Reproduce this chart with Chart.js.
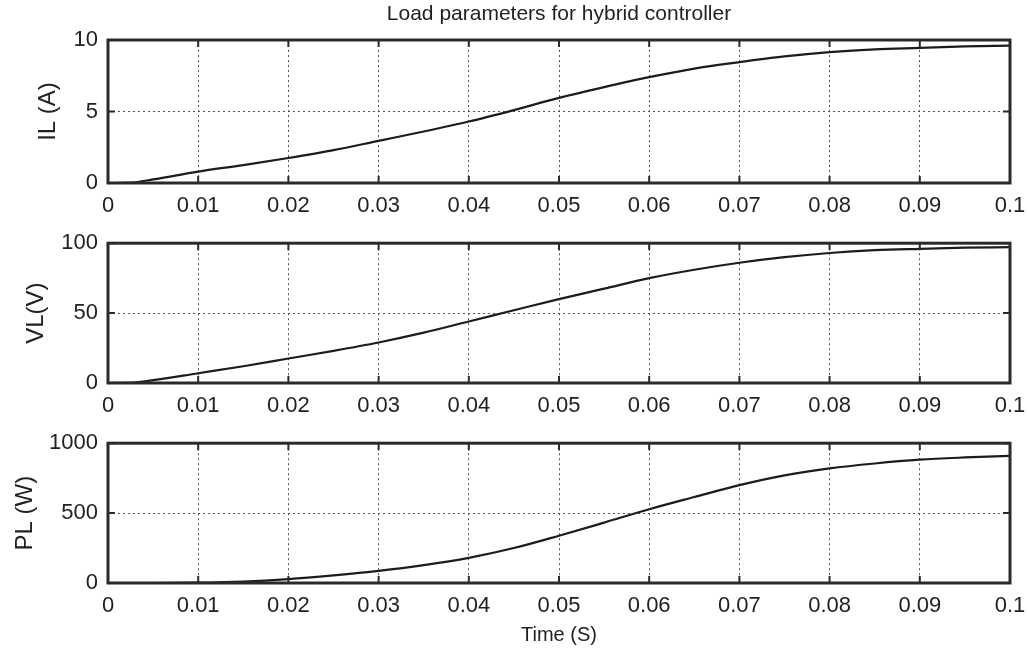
<!DOCTYPE html>
<html>
<head>
<meta charset="utf-8">
<script src="https://cdn.jsdelivr.net/npm/chart.js@4"></script>
<style>
body { margin: 0; background: #fff; width: 1028px; height: 651px; overflow: hidden; position: relative; }
canvas { position: absolute; left: 0; }
</style>
</head>
<body>
<canvas id="ilChart" width="1028" height="220" style="top:0px"></canvas>
<canvas id="vlChart" width="1028" height="200" style="top:220px"></canvas>
<canvas id="plChart" width="1028" height="231" style="top:420px"></canvas>
<script>
// values
const timeValues = [0, 0.0025, 0.005, 0.01, 0.015, 0.02, 0.025, 0.03, 0.035, 0.04, 0.045,
    0.05, 0.055, 0.06, 0.065, 0.07, 0.075, 0.08, 0.085, 0.09, 0.095, 0.1];
const ilValues = [0, 0.02, 0.25, 0.8, 1.25, 1.75, 2.3, 2.95, 3.6, 4.3, 5.1,
    5.95, 6.7, 7.4, 8.0, 8.45, 8.85, 9.15, 9.35, 9.45, 9.55, 9.6];
const vlValues = [0, 0.2, 2, 7, 12, 17.5, 23, 29, 36, 44, 52,
    60, 67.5, 75, 81, 86, 90, 93, 95, 96, 96.8, 97.2];
const plValues = [0, 0, 0, 2, 10, 28, 55, 87, 128, 180, 250,
    338, 432, 528, 615, 700, 770, 820, 855, 882, 898, 910];

const xTicks = [0, 0.01, 0.02, 0.03, 0.04, 0.05, 0.06, 0.07, 0.08, 0.09, 0.1];
const ilTicks = [0, 5, 10];
const vlTicks = [0, 50, 100];
const plTicks = [0, 500, 1000];

const fontFamily = "'Liberation Sans', Arial, sans-serif";
const textColor = "#222";

// box round the plot and the small inward tick marks, like matlab
const frameTicks = {
    id: "frameTicks",
    afterDraw(chart) {
        const { ctx, chartArea: a, scales } = chart;
        ctx.save();
        ctx.strokeStyle = "#2a2a2a";
        ctx.lineWidth = 2;
        ctx.beginPath();
        scales.x.ticks.forEach(t => {
            const px = scales.x.getPixelForValue(t.value);
            ctx.moveTo(px, a.bottom); ctx.lineTo(px, a.bottom - 7);
            ctx.moveTo(px, a.top); ctx.lineTo(px, a.top + 7);
        });
        scales.y.ticks.forEach(t => {
            const py = scales.y.getPixelForValue(t.value);
            ctx.moveTo(a.left, py); ctx.lineTo(a.left + 7, py);
            ctx.moveTo(a.right, py); ctx.lineTo(a.right - 7, py);
        });
        ctx.stroke();
        ctx.lineWidth = 3;
        ctx.strokeRect(a.left, a.top, a.right - a.left, a.bottom - a.top);
        ctx.restore();
    }
};

function makeChart(id, values, yTicks, yLabel, cfg) {
    const points = timeValues.map((t, i) => ({ x: t, y: values[i] }));
    const ctx = document.getElementById(id).getContext("2d");
    return new Chart(ctx, {
        type: "line",
        data: {
            datasets: [{
                data: points,
                borderColor: "#1c1c1c",
                borderWidth: 2.2,
                pointRadius: 0,
                cubicInterpolationMode: "monotone",
                fill: false
            }]
        },
        options: {
            responsive: false,
            animation: false,
            devicePixelRatio: 1,
            layout: { padding: { top: cfg.padTop, left: 0, right: 18, bottom: 0 } },
            plugins: {
                legend: { display: false },
                tooltip: { enabled: false },
                title: {
                    display: !!cfg.title,
                    text: cfg.title || "",
                    fullSize: false,
                    color: textColor,
                    font: { family: fontFamily, size: 21, weight: "normal" },
                    padding: { top: 2, bottom: 12.8 }
                }
            },
            scales: {
                x: {
                    type: "linear",
                    min: 0,
                    max: 0.1,
                    afterBuildTicks: s => { s.ticks = xTicks.map(v => ({ value: v })); },
                    afterFit: s => { s.height = cfg.xHeight; s.paddingRight = 4; s.paddingLeft = 4; },
                    grid: { color: "#555", lineWidth: 1, drawTicks: false },
                    border: { display: false, dash: [2, 3] },
                    ticks: {
                        color: textColor,
                        padding: 10,
                        maxRotation: 0,
                        autoSkip: false,
                        font: { family: fontFamily, size: 22 },
                        callback: v => String(v)
                    },
                    title: {
                        display: !!cfg.xTitle,
                        text: cfg.xTitle || "",
                        color: textColor,
                        font: { family: fontFamily, size: 20 },
                        padding: { top: 0, bottom: 4 }
                    }
                },
                y: {
                    min: yTicks[0],
                    max: yTicks[yTicks.length - 1],
                    afterBuildTicks: s => { s.ticks = yTicks.map(v => ({ value: v })); },
                    afterFit: s => { s.width = 108; },
                    grid: { color: "#555", lineWidth: 1, drawTicks: false },
                    border: { display: false, dash: [2, 3] },
                    ticks: {
                        color: textColor,
                        padding: 10,
                        font: { family: fontFamily, size: 22 },
                        callback: v => String(v)
                    },
                    title: {
                        display: true,
                        text: yLabel,
                        color: textColor,
                        font: { family: fontFamily, size: 24 },
                        padding: { top: cfg.yTitlePad, bottom: 0 }
                    }
                }
            }
        },
        plugins: [frameTicks]
    });
}

makeChart("ilChart", ilValues, ilTicks, "IL (A)",
    { padTop: 0, xHeight: 37, yTitlePad: 33.6, title: "Load parameters for hybrid controller" });
makeChart("vlChart", vlValues, vlTicks, "VL(V)",
    { padTop: 22, xHeight: 37, yTitlePad: 21.6 });
makeChart("plChart", plValues, plTicks, "PL (W)",
    { padTop: 20, xHeight: 68, yTitlePad: 10.6, xTitle: "Time (S)" });
</script>
</body>
</html>
